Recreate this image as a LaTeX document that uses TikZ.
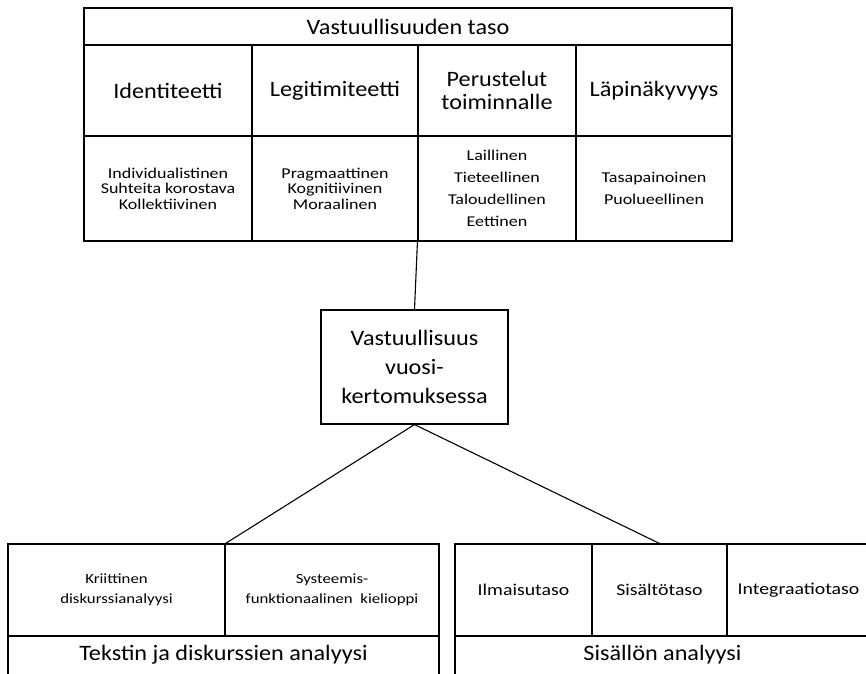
\documentclass[tikz,border=0pt]{standalone}
\usepackage{fontspec}
\setmainfont[FakeStretch=1.1]{Carlito}
\newfontfamily\narrowtext[FakeStretch=1.2]{Carlito}
\usepackage{tikz}

\begin{document}
\begin{tikzpicture}[x=1pt, y=-1pt,
    cell/.style={draw, line width=1.1pt, align=center, inner sep=2pt},
    big/.style={font=\fontsize{22}{22.5}\selectfont},
    small/.style={font=\narrowtext\fontsize{15}{15.5}\selectfont},
    widesmall/.style={font=\narrowtext\fontsize{15}{21.8}\selectfont},
    botsmall/.style={font=\narrowtext\fontsize{14}{20}\selectfont},
    mid/.style={font=\narrowtext\fontsize{16.5}{20}\selectfont}]
    \useasboundingbox (0,0) rectangle (866,673);
    \clip (0,0) rectangle (866,673);
    \node[cell, big, minimum width=648pt, minimum height=37pt] (taso) at (408,26.5) {Vastuullisuuden taso};
    \node[cell, big, minimum width=168pt, minimum height=91pt] (ident) at (168,90.5) {Identiteetti};
    \node[cell, big, minimum width=166pt, minimum height=91pt] (legit) at (335,90.5) {Legitimiteetti};
    \node[cell, big, minimum width=158pt, minimum height=91pt] (perus) at (497,90.5) {Perustelut\\toiminnalle};
    \node[cell, big, minimum width=156pt, minimum height=91pt] (lapin) at (654,90.5) {Läpinäkyvyys};
    \node[cell, small, minimum width=168pt, minimum height=105pt] (identb) at (168,188.5) {Individualistinen\\Suhteita korostava\\Kollektiivinen};
    \node[cell, small, minimum width=166pt, minimum height=105pt] (legitb) at (335,188.5) {Pragmaattinen\\Kognitiivinen\\Moraalinen};
    \node[cell, widesmall, minimum width=158pt, minimum height=105pt] (perusb) at (497,188.5) {Laillinen\\Tieteellinen\\Taloudellinen\\Eettinen};
    \node[cell, widesmall, minimum width=156pt, minimum height=105pt] (lapinb) at (654,188.5) {Tasapainoinen\\Puolueellinen};
    \node[cell, minimum width=187pt, minimum height=114pt, font=\fontsize{22}{29}\selectfont] (vastuu) at (414.5,367) {Vastuullisuus\\vuosi-\\kertomuksessa};
    \node[cell, botsmall, minimum width=217pt, minimum height=92pt] (krit) at (116.5,590) {Kriittinen\\diskurssianalyysi};
    \node[cell, botsmall, minimum width=214pt, minimum height=92pt] (sfk) at (332,590) {Systeemis-\\funktionaalinen\ \ kielioppi};
    \node[cell, big, minimum width=431pt, minimum height=44pt, text depth=12pt, anchor=north] (tekstin) at (223.5,636) {Tekstin ja diskurssien analyysi};
    \node[cell, mid, minimum width=137pt, minimum height=92pt] (ilmai) at (523.5,590) {Ilmaisutaso};
    \node[cell, mid, minimum width=135pt, minimum height=92pt] (sisal) at (659.5,590) {Sisältötaso};
    \node[cell, mid, minimum width=143pt, minimum height=92pt] (integr) at (798.5,590) {Integraatiotaso};
    \node[cell, big, minimum width=415pt, minimum height=44pt, text depth=12pt, anchor=north] (sisallon) at (662.5,636) {Sisällön analyysi};
    \draw[line width=1.1pt] (perusb.south west) -- (vastuu.north);
    \draw[line width=1.1pt] (vastuu.south) -- (krit.north east);
    \draw[line width=1.1pt] (vastuu.south) -- (sisal.north);
\end{tikzpicture}
\end{document}
